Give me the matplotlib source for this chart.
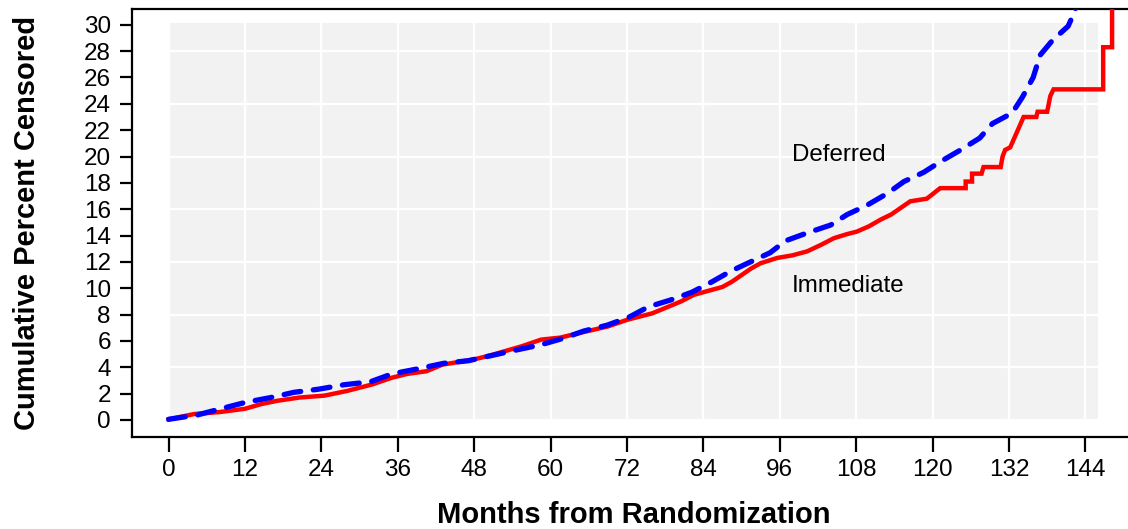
import matplotlib
matplotlib.use("Agg")
import matplotlib.pyplot as plt
from matplotlib.patches import Rectangle

plt.rcParams['font.family'] = ['Liberation Sans', 'DejaVu Sans']

# Immediate arm (red), vertices
imm_months = [0, 4, 8, 12, 14.5, 17, 20.5, 24.5, 28, 32, 35, 37.5, 40.5, 43, 48,
              50.5, 55.5, 58.5, 61.5, 64.5, 69, 72, 76, 78.5, 80.5, 82.5, 84, 87,
              88.5, 90, 91.5, 93, 95.6, 98, 100.3, 102.5, 104.5, 106.5, 108.1, 110,
              111.8, 113.5, 115, 116.5, 119.1, 121.2, 125.2, 125.2, 126.2, 126.2,
              127.7, 128.0, 130.7, 131.0, 131.4, 132.2, 134.3, 136.3, 136.5, 138.0,
              138.5, 139.0, 146.8, 146.8, 148.2, 148.2]
imm_pct = [0.05, 0.45, 0.6, 0.85, 1.2, 1.45, 1.7, 1.85, 2.2, 2.7, 3.2, 3.5, 3.7, 4.2, 4.6,
           4.9, 5.6, 6.1, 6.25, 6.6, 7.1, 7.6, 8.1, 8.6, 9.0, 9.5, 9.7, 10.1,
           10.5, 11.0, 11.5, 11.9, 12.3, 12.5, 12.8, 13.3, 13.8, 14.1, 14.3, 14.7,
           15.2, 15.6, 16.1, 16.6, 16.8, 17.6, 17.6, 18.1, 18.1, 18.7,
           18.7, 19.2, 19.2, 20.0, 20.5, 20.7, 23.0, 23.0, 23.4, 23.4,
           24.6, 25.1, 25.1, 28.3, 28.3, 33.0]

# Deferred arm (blue, dashed)
def_months = [0, 4.5, 8.2, 12.1, 16, 19.7, 23.6, 27.5, 31.7, 35.1, 38.8, 43.2, 47.1,
              50.8, 54.5, 58.4, 62, 65.2, 68.9, 72.3, 75.4, 78.8, 82.2, 85.4, 88.3,
              91.4, 94.5, 96.9, 100.3, 104, 106.6, 109.7, 112.9, 115.5, 118.6, 121.2,
              124.4, 127.4, 129.4, 132.5, 134.1, 135.8, 136.9, 138.8, 141.3, 142.4, 143]
def_pct = [0.05, 0.38, 0.85, 1.34, 1.7, 2.1, 2.34, 2.67, 2.9, 3.5, 3.85, 4.3, 4.5,
           4.9, 5.3, 5.7, 6.2, 6.75, 7.2, 7.8, 8.6, 9.1, 9.7, 10.5, 11.3,
           12.0, 12.7, 13.6, 14.2, 14.8, 15.6, 16.3, 17.2, 18.1, 18.8, 19.6,
           20.5, 21.4, 22.5, 23.3, 24.5, 26.0, 27.7, 28.8, 29.9, 31.1, 33.0]

x_ticks = list(range(0, 145, 12))
y_ticks = list(range(0, 31, 2))

fig = plt.figure(figsize=(11.28, 5.29), dpi=100)
ax = fig.add_axes([131.7 / 1128, 1 - 436.7 / 529, 1 - 131.7 / 1128, (436.7 - 9) / 529])
ax.set_xlim(-5.8, 150.7)
ax.set_ylim(-1.27, 31.2)

# grey panel with white grid
ax.add_patch(Rectangle((0, 0), 146, 30.1, facecolor='#f2f2f2', edgecolor='none', zorder=0))
ax.vlines(x_ticks, 0, 30.1, colors='white', linewidth=1.6, zorder=1)
ax.hlines(list(range(0, 30, 4)), 0, 146, colors='white', linewidth=1.6, zorder=1)

ax.plot(imm_months, imm_pct, color='#ff0000', linewidth=3.2, solid_joinstyle='miter', zorder=3)
ax.plot(def_months, def_pct, color='#0000ff', linewidth=3.8, linestyle=(0, (3.2, 2.4)),
        dash_capstyle='round', zorder=4)

ax.text(97.9, 20.1, 'Deferred', fontsize=17.4, va='center', ha='left')
ax.text(97.9, 10.2, 'Immediate', fontsize=17.4, va='center', ha='left')

ax.set_xticks(x_ticks)
ax.set_yticks(y_ticks)
ax.tick_params(axis='x', labelsize=17.5, length=11, width=1.6, pad=5)
ax.tick_params(axis='y', labelsize=17.5, length=9, width=1.6, pad=6)
for s in ['left', 'bottom', 'top']:
    ax.spines[s].set_linewidth(1.6)
ax.spines['right'].set_visible(False)

ax.set_xlabel('Months from Randomization', fontsize=21, fontweight='bold')
ax.set_ylabel('Cumulative Percent Censored', fontsize=21, fontweight='bold')
ax.xaxis.set_label_coords(0.504, -0.183)
ax.xaxis.label.set_va('center')
ax.yaxis.set_label_coords(-0.105, 0.5)
ax.yaxis.label.set_va('center')

fig.savefig('out.png', dpi=100)
